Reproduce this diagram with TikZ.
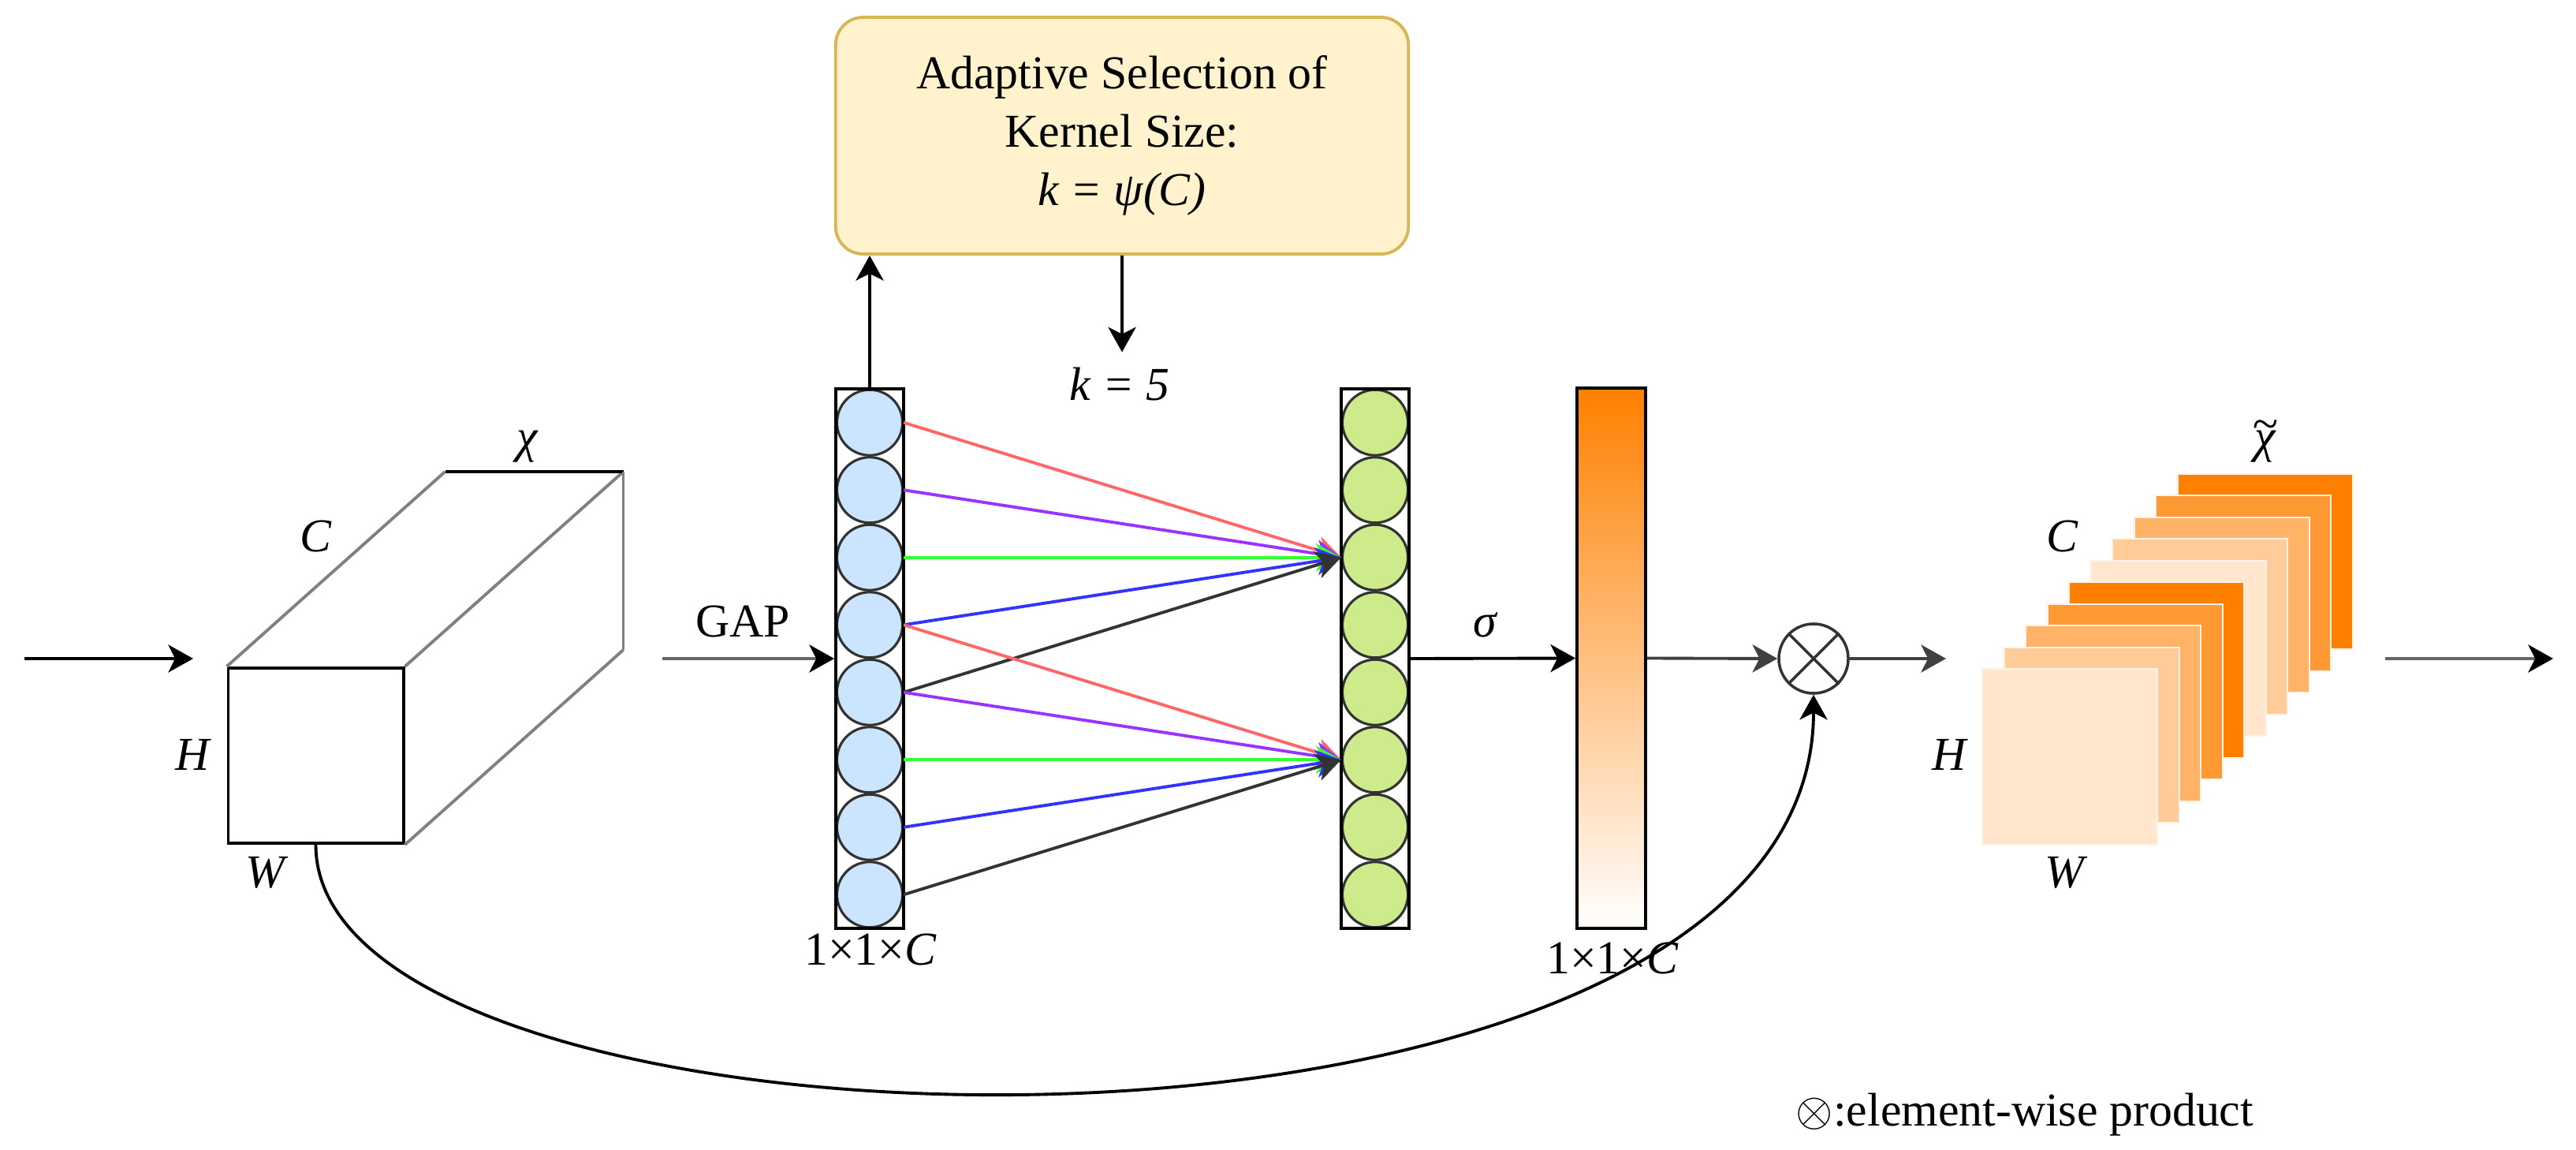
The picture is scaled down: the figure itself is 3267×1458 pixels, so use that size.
\documentclass[tikz,border=0pt]{standalone}
\usepackage{fontspec}
\setmainfont{Liberation Serif}
\usepackage{tikz}
\usetikzlibrary{arrows.meta}
\definecolor{cellblue}{HTML}{CCE5FF}
\definecolor{cellgreen}{HTML}{CDEB8B}
\definecolor{kfill}{HTML}{FFF2CC}
\definecolor{kline}{HTML}{D6B656}
\definecolor{orA}{HTML}{FFE6CC}
\definecolor{orB}{HTML}{FFCC99}
\definecolor{orC}{HTML}{FFB366}
\definecolor{orD}{HTML}{FF9933}
\definecolor{orE}{HTML}{FF8000}
\definecolor{wred}{HTML}{FF6666}
\definecolor{wpurple}{HTML}{9933FF}
\definecolor{wgreen}{HTML}{33FF33}
\definecolor{wblue}{HTML}{3333FF}
\definecolor{wdark}{HTML}{333333}
\tikzstyle{lbl} = [inner sep=0pt]
\tikzstyle{cell} = [circle, draw=wdark, line width=0.9pt, minimum size=0.83cm, inner sep=0pt]
\tikzstyle{colbox} = [draw, line width=1.1pt, minimum width=0.86cm, minimum height=6.84cm, inner sep=0pt]
\tikzstyle{face} = [draw, fill=white, line width=1.1pt, minimum size=2.22cm, inner sep=0pt]
\tikzstyle{fmap} = [draw=orA!50!white, line width=0.6pt, minimum size=2.22cm, inner sep=0pt]
\tikzstyle{edge} = [draw=black!50, line width=1.1pt]
\tikzstyle{wire} = [line width=1.1pt, ->]
\tikzstyle{kbox} = [rectangle, rounded corners=0.35cm, draw=kline, fill=kfill, line width=1.1pt, minimum width=7.26cm, minimum height=3cm, align=center, font=\fontsize{17}{21}\selectfont]
\tikzstyle{grayarrow} = [draw=black!60, -{Stealth[length=9pt,width=10pt,inset=2.5pt,black]}]

\begin{document}
\begin{tikzpicture}[x=0.01cm, y=-0.01cm, >={Stealth[length=9pt,width=10pt,inset=2.5pt]}, line width=1.1pt, font=\fontsize{17}{20.2}\selectfont]
  \useasboundingbox (0,0) rectangle (3267,1458);

  \node (cubeF) at (400.5,958) [face] {};
  \draw [edge] (cubeF.north west) -- ++(277,-247) coordinate (bTL);
  \draw [edge] (cubeF.north east) -- ++(277,-247) coordinate (bTR);
  \draw [edge] (cubeF.south east) -- ++(277,-247) coordinate (bBR);
  \draw (bTL) -- (bTR);
  \draw [edge] (bTR) -- (bBR);
  \node (xL) at (669,566) [lbl] {\textit{χ}};
  \node (cL) at (401,680) [lbl] {\textit{C}};
  \node (hL) at (245,957) [lbl] {\textit{H}};
  \node (wL) at (339,1106) [lbl] {\textit{W}};

  \coordinate (inS) at (31,835);
  \coordinate (inE) at (245,835);
  \coordinate (cubeOut) at (840,835);
  \draw [->] (inS) -- (inE);
  \node (gapL) at (942,788) [lbl] {GAP};

  \node (ksel) at (1423,172) [kbox] {Adaptive Selection of\\Kernel Size:\\\textit{k = ψ(C)}};
  \node (kval) at (1420,487) [lbl] {\textit{k = 5}};

  \node (b1) at (1103,535.75) [cell, fill=cellblue] {};
  \node (b2) at (1103,621.25) [cell, fill=cellblue] {};
  \node (b3) at (1103,706.75) [cell, fill=cellblue] {};
  \node (b4) at (1103,792.25) [cell, fill=cellblue] {};
  \node (b5) at (1103,877.75) [cell, fill=cellblue] {};
  \node (b6) at (1103,963.25) [cell, fill=cellblue] {};
  \node (b7) at (1103,1048.75) [cell, fill=cellblue] {};
  \node (b8) at (1103,1134.25) [cell, fill=cellblue] {};
  \node (blueCol) at (1103,835) [colbox] {};
  \node (blueLbl) at (1104,1204) [lbl] {1×1×\textit{C}};

  \node (g1) at (1744,535.75) [cell, fill=cellgreen] {};
  \node (g2) at (1744,621.25) [cell, fill=cellgreen] {};
  \node (g3) at (1744,706.75) [cell, fill=cellgreen] {};
  \node (g4) at (1744,792.25) [cell, fill=cellgreen] {};
  \node (g5) at (1744,877.75) [cell, fill=cellgreen] {};
  \node (g6) at (1744,963.25) [cell, fill=cellgreen] {};
  \node (g7) at (1744,1048.75) [cell, fill=cellgreen] {};
  \node (g8) at (1744,1134.25) [cell, fill=cellgreen] {};
  \node (greenCol) at (1744,835) [colbox] {};

  \node (gate) at (2043.5,834.5) [colbox, minimum width=0.87cm, top color=orE, bottom color=white] {};
  \node (gateLbl) at (2045,1215) [lbl] {1×1×\textit{C}};
  \node (sigL) at (1884,792) [lbl] {\textit{σ}};

  \node (mul) at (2300,835) [circle, draw=wdark, line width=1pt, minimum size=0.88cm, inner sep=0pt] {};
  \draw [wdark, line width=1pt] (mul.north west) -- (mul.south east) (mul.north east) -- (mul.south west);

  \node (fm9) at (2872.5,712) [fmap, fill=orE] {};
  \node (fm8) at (2845,739.5) [fmap, fill=orD] {};
  \node (fm7) at (2817.5,767) [fmap, fill=orC] {};
  \node (fm6) at (2790,794.5) [fmap, fill=orB] {};
  \node (fm5) at (2762.5,822) [fmap, fill=orA] {};
  \node (fm4) at (2735,849.5) [fmap, fill=orE] {};
  \node (fm3) at (2707.5,877) [fmap, fill=orD] {};
  \node (fm2) at (2680,904.5) [fmap, fill=orC] {};
  \node (fm1) at (2652.5,932) [fmap, fill=orB] {};
  \node (fm0) at (2625,959.5) [fmap, fill=orA] {};
  \node (xtL) at (2873,560) [lbl] {\textit{\ooalign{χ\cr\hidewidth\raisebox{0.27em}{\textasciitilde}\hidewidth\cr}}};
  \node (ctL) at (2616,680) [lbl] {\textit{C}};
  \node (htL) at (2473,957) [lbl] {\textit{H}};
  \node (wtL) at (2621,1106) [lbl] {\textit{W}};

  \coordinate (stackIn) at (2468,835);
  \coordinate (outS) at (3025,835);
  \coordinate (outE) at (3238,835);

  \draw [grayarrow] (cubeOut) -- (blueCol.west);
  \draw [->] (blueCol.north) -- (blueCol.north |- ksel.south);
  \draw [->, shorten >=5pt] (ksel.south) -- (ksel.south |- kval.north);

  \draw [wire, wred] (b1.east) -- (g3.west);
  \draw [wire, wpurple] (b2.east) -- (g3.west);
  \draw [wire, wgreen] (b3.east) -- (g3.west);
  \draw [wire, wblue] (b4.east) -- (g3.west);
  \draw [wire, wdark] (b5.east) -- (g3.west);
  \draw [wire, wred] (b4.east) -- (g6.west);
  \draw [wire, wpurple] (b5.east) -- (g6.west);
  \draw [wire, wgreen] (b6.east) -- (g6.west);
  \draw [wire, wblue] (b7.east) -- (g6.west);
  \draw [wire, wdark] (b8.east) -- (g6.west);

  \draw [->] (greenCol.east) -- (gate.west);
  \draw [->, draw=black!75] (gate.east) -- (mul.west);
  \draw [->, draw=black!75] (mul.east) -- (stackIn);
  \draw [grayarrow] (outS) -- (outE);
  \draw [->] (cubeF.south) .. controls (400,1500) and (2300,1540) .. (mul.south);

  \node (legend) at (2276,1413) [lbl, anchor=west] {$\otimes$:element-wise product};
\end{tikzpicture}
\end{document}
